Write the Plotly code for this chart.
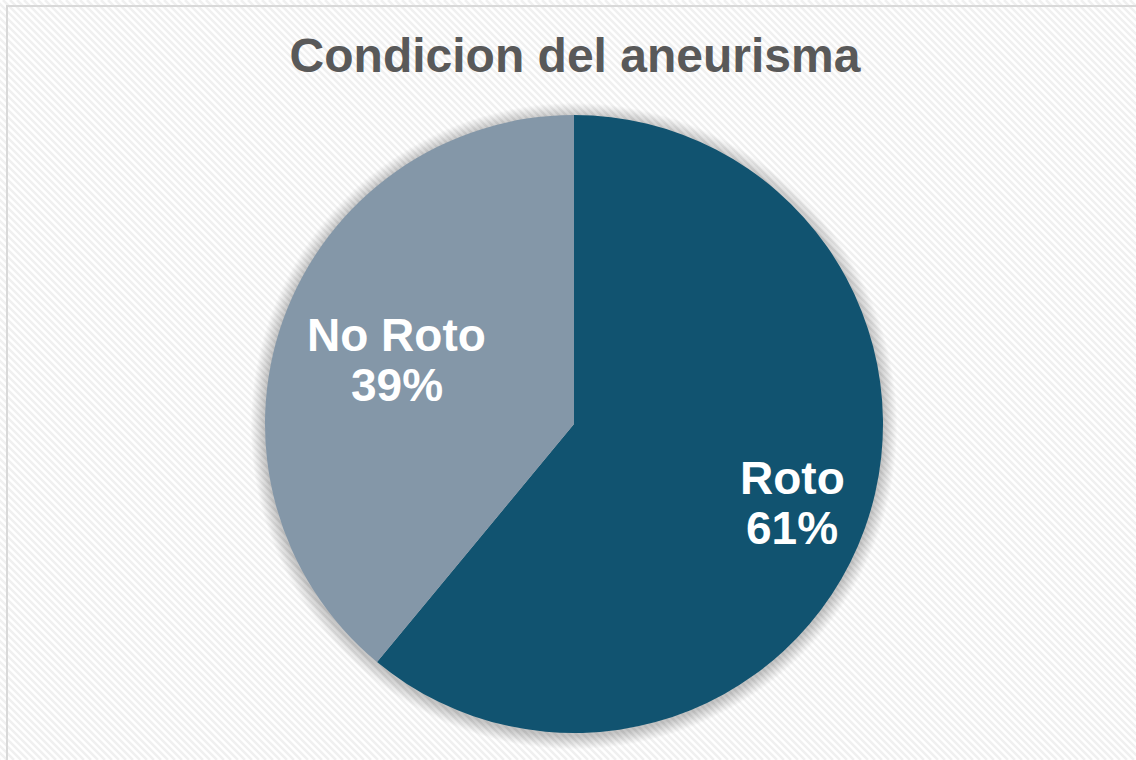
import math
import plotly.graph_objects as go

# data
labels = ["Roto", "No Roto"]
values = [61, 39]
colors = ["#115370", "#8497A8"]
title_text = "Condicion del aneurisma"

W, H = 1136, 760
cx, cy, r = 574, 424, 309
label_radius = [0.75, 0.61]  # fraction of radius where each label sits
line_gap = 25

fig = go.Figure()

fig.add_trace(go.Pie(
    labels=labels,
    values=values,
    sort=False,
    direction="clockwise",
    rotation=0,
    marker=dict(colors=colors, line=dict(width=0)),
    textinfo="none",
    hoverinfo="label+percent",
    showlegend=False,
    domain=dict(x=[(cx - r) / W, (cx + r) / W], y=[1 - (cy + r) / H, 1 - (cy - r) / H]),
))

# slice labels placed along each slice's bisector
total = sum(values)
annotations = []
start = 0
for lab, val, frac in zip(labels, values, label_radius):
    mid = (start + val / 2) / total * 2 * math.pi
    start += val
    lx = cx + frac * r * math.sin(mid)
    ly = cy - frac * r * math.cos(mid)
    pct = round(val / total * 100)
    for txt, dy in [(lab, -line_gap), (f"{pct}%", line_gap)]:
        annotations.append(dict(
            x=lx, y=ly + dy, xref="x", yref="y", text=f"<b>{txt}</b>",
            showarrow=False, xanchor="center", yanchor="middle",
            font=dict(family="Liberation Sans, Arial", size=46, color="white"),
        ))

# background: faint diagonal stripes + border, drawn in pixel coords
stripe_path = ""
for k in range(-H, W + H, 7):
    stripe_path += f"M{k},0 L{k + H},{H} "

shapes = [
    dict(type="path", path=stripe_path, xref="x", yref="y",
         line=dict(color="#f0f0f0", width=2.5), layer="below"),
]

# soft shadow around the pie
for i in range(14, 0, -1):
    shapes.append(dict(type="circle", xref="x", yref="y",
                       x0=cx - r - i, x1=cx + r + i, y0=cy - r - i + 2, y1=cy + r + i + 2,
                       fillcolor="rgba(0,0,0,0.014)", line=dict(width=0), layer="below"))

shapes += [
    dict(type="line", xref="x", yref="y", x0=7, x1=7, y0=5, y1=H,
         line=dict(color="#d9d9d9", width=2), layer="below"),
    dict(type="line", xref="x", yref="y", x0=6, x1=W, y0=6, y1=6,
         line=dict(color="#d9d9d9", width=2), layer="below"),
]

fig.update_layout(
    width=W, height=H,
    margin=dict(l=0, r=0, t=0, b=0),
    paper_bgcolor="white",
    plot_bgcolor="white",
    xaxis=dict(range=[0, W], visible=False, domain=[0, 1], fixedrange=True),
    yaxis=dict(range=[H, 0], visible=False, domain=[0, 1], fixedrange=True),
    shapes=shapes,
    annotations=annotations,
    title=dict(
        text=f"<b>{title_text}</b>",
        x=575 / W, xanchor="center",
        y=1 - 55 / H, yanchor="middle", yref="container",
        font=dict(family="Liberation Sans, Arial", size=48, color="#595959"),
    ),
)

fig.write_html("out.html", config={"displayModeBar": False},
               post_script="document.body.style.margin='0';")
